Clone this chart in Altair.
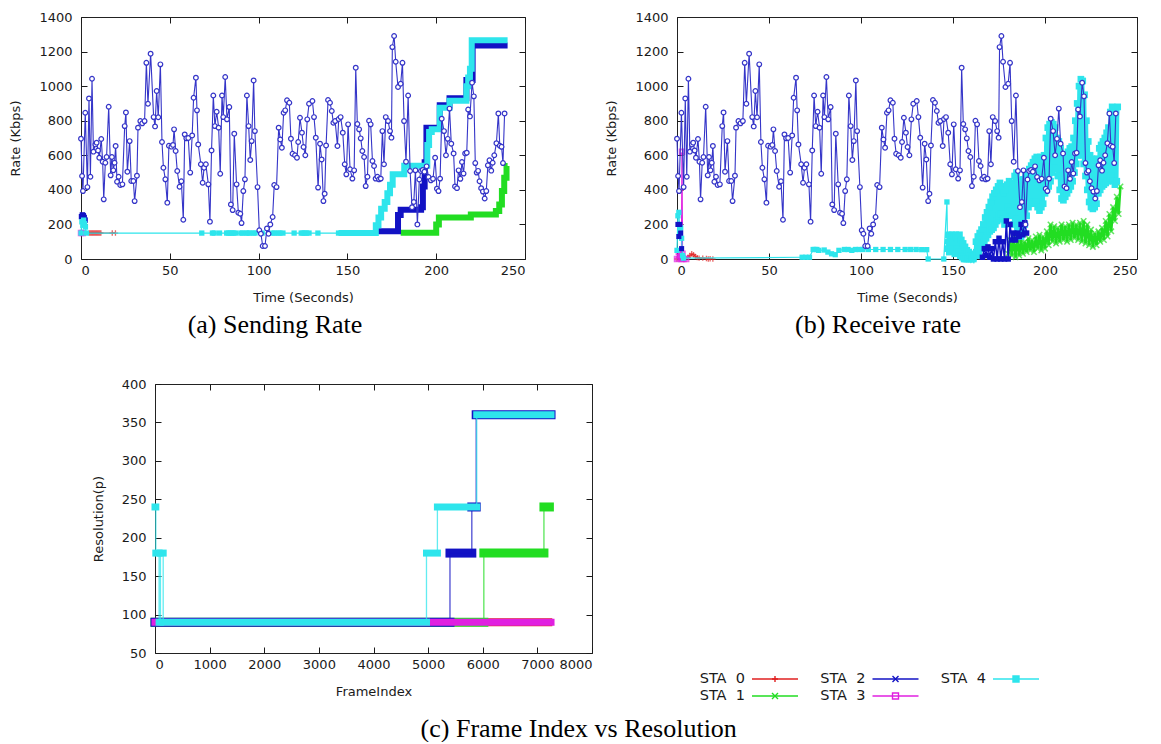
import altair as alt
import pandas as pd

FONT = "DejaVu Sans"
SERIF = "Liberation Serif"
TXT = "#1a1a1a"
C0, C1, C2, C3, C4 = "#e02020", "#22dd22", "#1212c4", "#e020e0", "#2ee5ec"
CR = "#3535c8"
PLUS = "M-1,0L1,0M0,-1L0,1"
XMARK = "M-1,-1L1,1M-1,1L1,-1"

# ---------------- shared rate series (blue circles, panels a and b) ----------------
rate_t = [0.0, 0.6, 1.1, 2.4, 3.6, 4.5, 5.3, 6.2, 7.0, 8.1, 8.8, 9.6, 10.3, 11.4, 12.2, 12.8, 13.7, 14.4, 15.6, 16.7,
          17.4, 18.2, 18.9, 19.5, 20.3, 21.2, 22.1, 23.3, 24.6, 25.3, 26.1, 27.4, 28.3, 29.5, 30.2, 31.5, 32.1, 33.4,
          34.5, 35.8, 36.8, 37.7, 39.2, 40.9, 41.7, 42.6, 43.5, 44.7, 45.6, 46.4, 47.5, 48.6, 49.5, 50.9, 51.8, 52.4,
          53.3, 54.2, 55.5, 56.5, 57.6, 58.4, 59.3, 60.4, 61.5, 62.6, 63.4, 64.7, 65.3, 66.0, 67.5, 68.5, 69.3, 70.3,
          71.7, 72.6, 73.5, 74.5, 75.4, 76.4, 77.5, 78.4, 79.4, 80.1, 81.2, 82.2, 83.5, 84.4, 85.4, 86.3, 87.6, 88.6,
          89.7, 90.4, 91.4, 92.3, 93.4, 94.4, 95.3, 96.1, 97.2, 97.9, 99.4, 100.4, 101.3, 102.3, 103.6, 104.7, 105.6,
          106.6, 107.9, 108.8, 110.1, 111.3, 112.2, 113.1, 114.1, 115.0, 116.0, 117.3, 118.2, 119.1, 120.5, 121.6,
          122.3, 123.3, 124.4, 125.3, 126.3, 127.4, 128.4, 130.3, 131.2, 132.2, 133.5, 134.6, 135.5, 136.5, 137.2,
          138.0, 139.1, 140.2, 141.2, 142.1, 143.1, 144.4, 145.1, 146.2, 147.4, 148.5, 149.4, 150.4, 151.5, 152.8,
          153.8, 154.7, 155.6, 156.6, 157.5, 158.4, 159.4, 160.3, 161.3, 162.2, 163.1, 164.1, 165.0, 165.9, 166.9,
          167.8, 168.8, 169.7, 170.6, 171.6, 172.9, 174.0, 174.8, 175.3, 176.3, 177.2, 178.5, 180.0, 181.0, 181.9,
          183.0, 184.2, 185.3, 186.4, 187.4, 188.3, 189.4, 190.5, 191.4, 192.4, 193.4, 194.6, 195.7, 197.0, 198.2,
          199.4, 200.4, 201.3, 202.2, 203.1, 204.4, 205.5, 206.5, 207.5, 208.5, 209.8, 210.6, 211.7, 212.6, 213.6,
          214.5, 215.4, 216.3, 217.2, 218.0, 219.0, 220.2, 221.2, 222.0, 222.8, 223.6, 224.4, 225.3, 226.3, 227.3,
          228.2, 229.1, 230.0, 231.0, 231.8, 232.7, 233.9, 235.0, 235.8, 236.8, 237.6, 238.5]
rate_v = [696, 480, 393, 846, 416, 929, 476, 1043, 621, 663, 673, 628, 586, 694, 563, 345, 557, 590, 881, 484,
          590, 513, 557, 654, 447, 476, 428, 432, 769, 848, 505, 682, 451, 451, 335, 482, 760, 798,
          785, 798, 1135, 898, 1188, 821, 767, 972, 820, 1126, 677, 528, 461, 326, 655, 650, 660, 750,
          625, 509, 418, 450, 227, 721, 698, 700, 500, 715, 933, 1049, 860, 663, 548, 441, 528, 548,
          432, 216, 628, 946, 769, 852, 760, 493, 946, 821, 1053, 808, 879, 316, 283, 725, 432, 268,
          262, 208, 393, 461, 946, 769, 573, 682, 1033, 740, 416, 166, 146, 75, 75, 177, 146,
          200, 243, 428, 416, 760, 692, 644, 846, 860, 918, 904, 696, 609, 600, 586,
          677, 817, 731, 648, 600, 808, 898, 914, 821, 702, 413, 667, 576, 335, 378,
          657, 920, 904, 856, 788, 798, 654, 810, 821, 731, 548, 490, 779, 519, 465,
          513, 1107, 781, 750, 698, 625, 590, 422, 476, 800, 779, 567, 538, 465, 476,
          461, 465, 740, 548, 821, 798, 740, 702, 1226, 1290, 1141, 995, 1014, 1135, 798,
          563, 946, 509, 300, 330, 513, 200, 460, 509, 515, 505, 536, 474, 455, 464,
          586, 407, 393, 465, 812, 740, 600, 695, 870, 667, 611, 420, 410, 513, 464,
          561, 494, 611, 615, 865, 825, 1020, 941, 555, 500, 510, 450, 410, 390, 350,
          393, 542, 571, 511, 557, 600, 670, 842, 655, 649, 555, 842]

# ---------------- panel (a) Sending rate ----------------
a_sta0_t = [4.6, 5.2, 5.8, 6.4, 7.0, 7.6, 8.2, 8.8, 9.4, 10.0, 10.6, 11.2, 17.6, 19.4]
a_sta0_v = [150, 150, 150, 150, 150, 150, 150, 150, 150, 150, 150, 150, 150, 150]
a_sta1_t = [180, 200, 201.5, 219.5, 233.6, 235.5, 237.0, 238.3, 239.6, 240.2]
a_sta1_v = [152, 200, 240, 258, 278, 316, 393, 470, 538, 538]
a_sta2_pt_t = [0.3, 0.8, 1.3, 1.8, 2.3]
a_sta2_pt_v = [245, 255, 250, 240, 225]
a_sta2_t = [166, 178.5, 180, 191.5, 192.5, 193.5, 194.5, 202, 207.5, 217, 220.5, 240.2]
a_sta2_v = [160, 255, 285, 300, 420, 560, 760, 890, 930, 1035, 1235, 1235]
a_sta3_t = [0.0, 1.0]
a_sta3_v = [150, 150]
a_sta4_pt_t = [0, 0.5, 1, 1.5, 2, 2.5, 3, 68, 74, 75, 78, 82, 83, 84, 85, 86, 87, 90, 91, 93, 94, 95, 97, 98,
               102, 108, 109, 111, 112, 113.7, 120, 124, 125, 126, 127, 128.4, 133.4, 145]
a_sta4_pt_v = [150, 215, 195, 225, 205, 185, 150, 150, 150, 150, 150, 150, 150, 150, 150, 150, 150, 150, 150,
               150, 150, 150, 150, 150, 150, 150, 150, 150, 150, 150, 150, 150, 150, 150, 150, 150, 150, 150]
a_sta4_t = [145, 166, 167.5, 169, 171, 172.5, 174, 175.5, 182, 195, 196, 197.5, 202, 207.5, 217, 218, 219, 220, 240.2]
a_sta4_v = [150, 195, 240, 290, 330, 380, 430, 490, 540, 660, 735, 750, 875, 915, 1000, 1050, 1100, 1265, 1265]

# ---------------- panel (b) Receive rate ----------------
b_sta0_t = [0, 2, 4, 6, 7, 8, 9, 10, 11, 12, 14, 16, 17, 18, 19.5]
b_sta0_v = [0, 5, 5, 10, 20, 30, 25, 15, 8, 5, 5, 3, 0, 2, 0]
b_sta1_t = [180, 182, 184, 186, 188, 190, 192, 194, 196, 198, 200, 202, 204, 206, 208, 210, 212, 214, 216, 218,
            220, 222, 224, 226, 228, 230, 232, 234, 236, 238, 240]
b_sta1_lo = [30, 20, 10, 20, 30, 40, 50, 40, 60, 50, 60, 80, 100, 90, 100, 110, 100, 110, 120, 110,
             100, 90, 80, 70, 80, 100, 110, 130, 160, 220, 260]
b_sta1_hi = [110, 130, 120, 110, 100, 120, 110, 130, 140, 130, 160, 200, 190, 180, 200, 190, 200, 210, 200, 210,
             220, 200, 170, 150, 160, 180, 220, 260, 300, 360, 420]
b_sta2_pt_t = [0.5, 1, 1.5, 2, 2.5]
b_sta2_pt_v = [200, 130, 200, 150, 60]
b_sta2_t = [166, 167, 168, 169, 170, 171, 172, 173, 174, 175, 176, 177, 178, 179, 180, 181, 182, 183, 184, 185,
            186, 187, 188, 189, 190]
b_sta2_v = [10, 60, 20, 70, 10, 60, 0, 100, 0, 120, 0, 100, 0, 220, 0, 200, 110, 150, 110, 150, 130, 200, 140,
            210, 150]
b_sta3_t = [0, 1, 1.5, 2.4, 2.7, 3.0, 3.5, 5]
b_sta3_v = [0, 40, 10, 0, 620, 30, 0, 0]
b_sta4_pt_t = [0, 0.5, 1, 1.5, 2, 2.5, 3, 3.5, 68, 70, 72, 74, 75, 76, 77, 80, 82, 84, 86, 88, 91, 93, 95, 97, 99,
               101, 104, 108, 112, 116, 120, 124, 127, 130, 133, 135.7, 136.5, 145, 146.7, 147]
b_sta4_pt_v = [50, 250, 270, 150, 180, 120, 20, 5, 10, 10, 10, 55, 55, 55, 50, 52, 40, 30, 25, 50, 55, 55, 50, 55,
               55, 55, 55, 55, 55, 55, 55, 55, 55, 55, 54, 54, 0, 0, 330, 100]
b_sta4_t = list(range(147, 240))
b_sta4_lo = [60, 40, 60, 50, 30, 60, 40, 20, 10, 0, 0, 0, 0, 0, 0, 20, 20, 40, 60, 90, 100, 120, 140, 160, 170,
             180, 200, 220, 250, 260, 230, 200, 250, 300, 280, 250, 200, 230, 180, 150, 130, 150, 200, 250, 300,
             320, 330, 320, 330, 300, 280, 300, 320, 380, 400, 420, 450, 500, 530, 520, 480, 400, 350, 340, 360,
             380, 400, 420, 450, 500, 550, 600, 650, 600, 550, 480, 400, 330, 300, 290, 300, 320, 380, 400, 420,
             430, 440, 450, 470, 480, 450, 430, 450]
b_sta4_hi = [140, 120, 140, 130, 140, 120, 140, 110, 90, 70, 50, 40, 20, 10, 30, 100, 130, 150, 170, 200, 240,
             270, 300, 330, 360, 380, 400, 420, 440, 420, 380, 400, 430, 450, 440, 430, 480, 500, 450, 460, 440,
             460, 480, 500, 520, 540, 560, 580, 590, 580, 590, 570, 600, 700, 760, 780, 790, 780, 760, 700, 680,
             640, 600, 560, 580, 620, 640, 650, 700, 800, 900, 1000, 1040, 1030, 950, 800, 680, 600, 580, 560,
             540, 580, 640, 660, 680, 700, 730, 760, 850, 880, 870, 860, 880]

# ---------------- panel (c) Frame index vs resolution (step breakpoints) ----------------
c_sta0_f = [0, 7200]
c_sta0_r = [90, 90]
c_sta1_f = [0, 6020, 7120, 7220]
c_sta1_r = [90, 180, 240, 240]
c_sta2_f = [0, 5400, 5800, 5880, 7250]
c_sta2_r = [90, 180, 240, 360, 360]
c_sta3_f = [0, 7250]
c_sta3_r = [90, 90]
c_sta4_f = [0, 15, 75, 100, 150, 4970, 5170, 5890, 7250]
c_sta4_r = [240, 180, 90, 180, 90, 180, 240, 360, 360]

# ---------------- legend ----------------
leg_names = ["STA 0", "STA 1", "STA 2", "STA 3", "STA 4"]
leg_labels = ["STA\u00a0\u00a00", "STA\u00a0\u00a01", "STA\u00a0\u00a02", "STA\u00a0\u00a03", "STA\u00a0\u00a04"]
leg_col = [0, 0, 1, 1, 2]
leg_row = [0, 1, 0, 1, 0]
leg_colors = [C0, C1, C2, C3, C4]
leg_shapes = [PLUS, XMARK, XMARK, "square", "square"]
leg_fills = ["transparent", "transparent", "transparent", "transparent", C4]


def df(t, v):
    return pd.DataFrame({"t": t, "v": v})


def zigzag(t, lo, hi, half):
    tt, vv = [], []
    for a, b, c in zip(t, lo, hi):
        tt += [a, a + half]
        vv += [b, c]
    return df(tt, vv)


def axis_layers(data, xs, ys, xvals, yvals, xtitle, ytitle):
    main = alt.Chart(data).mark_point(opacity=0).encode(
        x=alt.X("t:Q", scale=xs, axis=alt.Axis(orient="bottom", values=xvals, format="d", labelOverlap=False,
                                                offset=-6, tickSize=6, tickColor=TXT, domain=False, grid=False,
                                                labelPadding=5, title=xtitle, titlePadding=14)),
        y=alt.Y("v:Q", scale=ys, axis=alt.Axis(orient="left", values=yvals, format="d", labelOverlap=False,
                                                offset=-6, tickSize=6, tickColor=TXT, domain=False, grid=False,
                                                labelPadding=9, title=ytitle, titlePadding=16)),
    )
    mirror = alt.Chart(data).mark_point(opacity=0).encode(
        x=alt.X("t:Q", scale=xs, axis=alt.Axis(orient="top", values=xvals, offset=-6, tickSize=6,
                                                tickColor=TXT, domain=False, grid=False, labels=False,
                                                title=None)),
        y=alt.Y("v:Q", scale=ys, axis=alt.Axis(orient="right", values=yvals, offset=-6, tickSize=6,
                                                tickColor=TXT, domain=False, grid=False, labels=False,
                                                title=None)),
    )
    return [main, mirror]


def enc(xs, ys):
    return dict(x=alt.X("t:Q", scale=xs, axis=None), y=alt.Y("v:Q", scale=ys, axis=None))


def caption(text, dx):
    return alt.TitleParams(text=text, orient="bottom", anchor="middle", frame="group", font=SERIF,
                           fontSize=26, fontWeight="normal", color="black", offset=8, dx=dx)


rate_x_ticks = [0, 50, 100, 150, 200, 250]
rate_y_ticks = [0, 200, 400, 600, 800, 1000, 1200, 1400]


def rate_rows(xs, ys):
    e = enc(xs, ys)
    d = alt.Chart(df(rate_t, rate_v))
    return [
        d.mark_line(color=CR, strokeWidth=1.1).encode(**e),
        d.mark_point(shape="circle", size=22, stroke=CR, fill="white", fillOpacity=1, strokeWidth=1.2).encode(**e),
    ]


# ---- panel (a)
xs_a = alt.Scale(domain=[0, 250], nice=False, zero=False)
ys_a = alt.Scale(domain=[0, 1400], nice=False)
ea = enc(xs_a, ys_a)
layers_a = axis_layers(df(rate_t, rate_v), xs_a, ys_a, rate_x_ticks, rate_y_ticks, "Time (Seconds)", "Rate (Kbps)")
layers_a += [
    alt.Chart(df(a_sta0_t, a_sta0_v)).mark_line(color=C0, strokeWidth=1).encode(**ea),
    alt.Chart(df(a_sta0_t, a_sta0_v)).mark_point(shape=PLUS, size=30, color=C0, strokeWidth=1.3).encode(**ea),
    alt.Chart(df(a_sta1_t, a_sta1_v)).mark_line(color=C1, strokeWidth=6, interpolate="step-after").encode(**ea),
    alt.Chart(df(a_sta2_pt_t, a_sta2_pt_v)).mark_point(shape="square", filled=True, size=30, color=C2, opacity=1).encode(**ea),
    alt.Chart(df(a_sta2_t, a_sta2_v)).mark_line(color=C2, strokeWidth=6, interpolate="step-after").encode(**ea),
    alt.Chart(df(a_sta3_t, a_sta3_v)).mark_point(shape="square", size=20, color=C3).encode(**ea),
    alt.Chart(df(a_sta4_pt_t, a_sta4_pt_v)).mark_line(color=C4, strokeWidth=1.2).encode(**ea),
    alt.Chart(df(a_sta4_pt_t, a_sta4_pt_v)).mark_point(shape="square", filled=True, size=28, color=C4, opacity=1).encode(**ea),
    alt.Chart(df(a_sta4_t, a_sta4_v)).mark_line(color=C4, strokeWidth=6, interpolate="step-after").encode(**ea),
]
layers_a += rate_rows(xs_a, ys_a)
chart_a = alt.layer(*layers_a).resolve_axis(x="independent", y="independent").properties(
    width=444, height=242, title=caption("(a) Sending Rate", -28))

# ---- panel (b)
xs_b = alt.Scale(domain=[0, 250], nice=False, zero=False)
ys_b = alt.Scale(domain=[0, 1400], nice=False)
eb = enc(xs_b, ys_b)
layers_b = axis_layers(df(rate_t, rate_v), xs_b, ys_b, rate_x_ticks, rate_y_ticks, "Time (Seconds)", "Rate (Kbps)")
layers_b += [
    alt.Chart(df(b_sta0_t, b_sta0_v)).mark_line(color=C0, strokeWidth=1).encode(**eb),
    alt.Chart(df(b_sta0_t, b_sta0_v)).mark_point(shape=PLUS, size=30, color=C0, strokeWidth=1.3).encode(**eb),
    alt.Chart(zigzag(b_sta1_t, b_sta1_lo, b_sta1_hi, 1)).mark_line(color=C1, strokeWidth=2.5).encode(**eb),
    alt.Chart(zigzag(b_sta1_t, b_sta1_lo, b_sta1_hi, 1)).mark_point(shape=XMARK, size=30, color=C1, strokeWidth=1.5).encode(**eb),
    alt.Chart(df(b_sta3_t, b_sta3_v)).mark_line(color=C3, strokeWidth=1.2).encode(**eb),
    alt.Chart(df(b_sta3_t, b_sta3_v)).mark_point(shape="square", size=20, color=C3).encode(**eb),
    alt.Chart(df(b_sta4_pt_t, b_sta4_pt_v)).mark_line(color=C4, strokeWidth=1.2).encode(**eb),
    alt.Chart(df(b_sta4_pt_t, b_sta4_pt_v)).mark_point(shape="square", filled=True, size=28, color=C4, opacity=1).encode(**eb),
    alt.Chart(zigzag(b_sta4_t, b_sta4_lo, b_sta4_hi, 0.5)).mark_line(color=C4, strokeWidth=3.5).encode(**eb),
    alt.Chart(zigzag(b_sta4_t, b_sta4_lo, b_sta4_hi, 0.5)).mark_point(shape="square", filled=True, size=45, color=C4, opacity=1).encode(**eb),
    alt.Chart(df(b_sta2_pt_t, b_sta2_pt_v)).mark_point(shape="square", filled=True, size=26, color=C2, opacity=1).encode(**eb),
    alt.Chart(df(b_sta2_t, b_sta2_v)).mark_line(color=C2, strokeWidth=1.5).encode(**eb),
    alt.Chart(df(b_sta2_t, b_sta2_v)).mark_point(shape="square", filled=True, size=30, color=C2, opacity=1).encode(**eb),
]
layers_b += rate_rows(xs_b, ys_b)
chart_b = alt.layer(*layers_b).resolve_axis(x="independent", y="independent").properties(
    width=460, height=242, title=caption("(b) Receive rate", -29))

# ---- panel (c)
xs_c = alt.Scale(domain=[0, 8000], nice=False, zero=False)
ys_c = alt.Scale(domain=[50, 400], nice=False, zero=False)
ec = enc(xs_c, ys_c)


def plateaus(f, r):
    return pd.DataFrame({"t": f[:-1], "t2": f[1:], "v": r[:-1]})


def step_layers(f, r, color, width):
    return [
        alt.Chart(plateaus(f, r)).mark_rule(color=color, strokeWidth=width, strokeCap="square").encode(
            x=alt.X("t:Q", scale=xs_c, axis=None), x2="t2:Q", y=alt.Y("v:Q", scale=ys_c, axis=None)),
        alt.Chart(df(f, r)).mark_line(color=color, strokeWidth=1.3, opacity=0.75, interpolate="step-after").encode(**ec),
    ]


layers_c = axis_layers(df(c_sta2_f, c_sta2_r), xs_c, ys_c, [0, 1000, 2000, 3000, 4000, 5000, 6000, 7000, 8000],
                       [50, 100, 150, 200, 250, 300, 350, 400], "FrameIndex", "Resolution(p)")
layers_c += step_layers(c_sta0_f, c_sta0_r, C0, 8)
layers_c += step_layers(c_sta1_f, c_sta1_r, C1, 9)
layers_c += step_layers(c_sta2_f, c_sta2_r, C2, 9)
layers_c += step_layers(c_sta3_f, c_sta3_r, C3, 7)
layers_c += step_layers(c_sta4_f, c_sta4_r, C4, 7)
chart_c = alt.layer(*layers_c).resolve_axis(x="independent", y="independent").properties(width=437, height=269)

# ---- legend panel
leg_df = pd.DataFrame({"name": leg_names, "label": leg_labels, "col": leg_col, "row": leg_row})
lx = alt.X("col:Q", scale=alt.Scale(domain=[0, 2], range=[158, 399]), axis=None)
ly = alt.Y("row:Q", scale=alt.Scale(domain=[0, 1], range=[295, 312]), axis=None)
lcolor = alt.Color("name:N", scale=alt.Scale(domain=leg_names, range=leg_colors), legend=None)
lshape = alt.Shape("name:N", scale=alt.Scale(domain=leg_names, range=leg_shapes), legend=None)
lfill = alt.Fill("name:N", scale=alt.Scale(domain=leg_names, range=leg_fills), legend=None)
lbase = alt.Chart(leg_df)
legend_chart = alt.layer(
    lbase.mark_rule(strokeWidth=1.3, x2Offset=46).encode(x=lx, x2="col:Q", y=ly, color=lcolor),
    lbase.mark_point(xOffset=23, size=36, strokeWidth=1.4, filled=False, opacity=1).encode(
        x=lx, y=ly, color=lcolor, shape=lshape, fill=lfill),
    lbase.mark_text(align="right", baseline="middle", dx=-7, font=FONT, fontSize=14.5, color=TXT).encode(
        x=lx, y=ly, text="label:N"),
).properties(width=440, height=316, view=alt.ViewBackground(stroke="transparent"))

spacer = alt.Chart(pd.DataFrame({"t": [0]})).mark_point(opacity=0).encode(
    x=alt.X("t:Q", axis=None), y=alt.Y("t:Q", axis=None)
).properties(width=9, height=10, view=alt.ViewBackground(stroke="transparent"))

top = alt.hconcat(chart_a, chart_b, spacing=79)
bottom = alt.hconcat(spacer, chart_c, legend_chart, spacing=0)
chart = alt.vconcat(
    top, bottom, spacing=38,
    title=alt.TitleParams(text="(c) Frame Index vs Resolution", orient="bottom", anchor="middle", font=SERIF,
                          fontSize=26, fontWeight="normal", color="black", offset=13, dx=5),
).properties(
    padding={"left": 9, "top": 10, "right": 0, "bottom": 0}
).configure_view(
    stroke="#222", strokeWidth=1
).configure_axis(
    labelFont=FONT, labelFontSize=13, labelColor=TXT, titleFont=FONT, titleFontSize=13,
    titleFontWeight="normal", titleColor=TXT
)

chart.save("out.html", embed_options={"renderer": "svg", "actions": False})
